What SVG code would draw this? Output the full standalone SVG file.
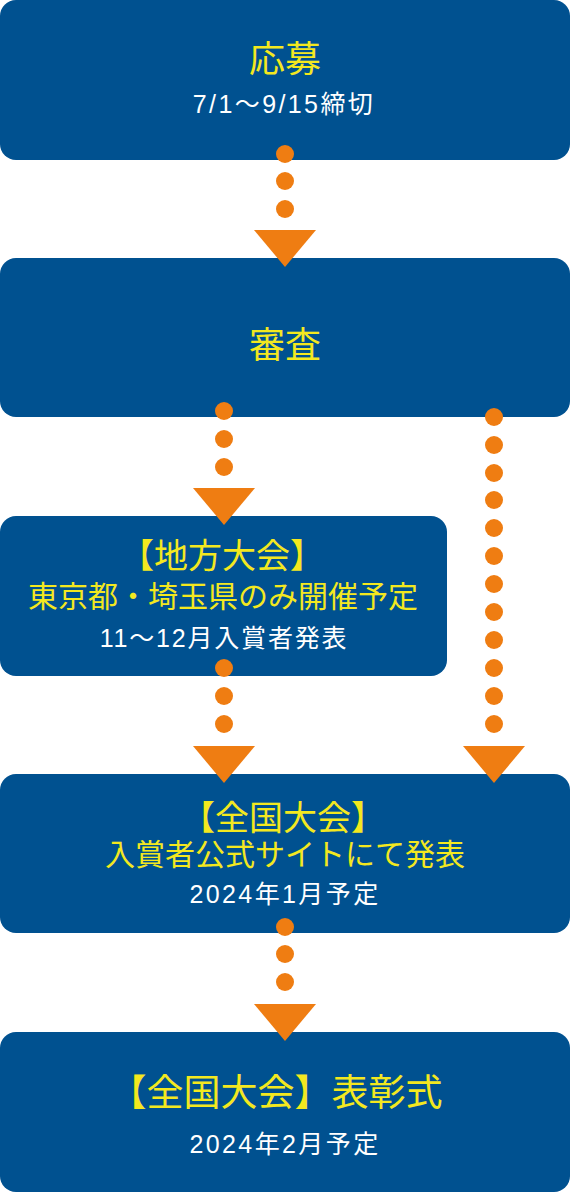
<svg xmlns="http://www.w3.org/2000/svg" width="570" height="1192" viewBox="0 0 570 1192">
<style>
.box{fill:#005190}
.dot{fill:#ef7d12}
.tri{fill:#ef7d12}
text{font-family:"Noto Sans CJK JP","Noto Sans",sans-serif;text-anchor:middle}
.y{fill:#f3e81f;dominant-baseline:central}
.w{fill:#ffffff;font-family:"Liberation Sans","Noto Sans CJK JP",sans-serif;font-size:25px;letter-spacing:1.8px}
.ws{letter-spacing:2.4px}
.t0{font-size:36px}
.t1{font-size:34px}
.t2{font-size:30px}
.t5{font-size:37px}
</style>
<defs>
<circle id="d" r="9" class="dot"/>
<path id="a" d="M-31,0 L31,0 L0,37 Z" class="tri"/>
</defs>
<g id="node-oubo">
<rect class="box" x="0" y="0" width="570" height="160" rx="16"/>
<text class="y t0" x="285" y="56">応募</text>
<text class="w ws" x="284" y="113">7/1〜9/15締切</text>
</g>
<g id="node-shinsa">
<rect class="box" x="0" y="258" width="570" height="159" rx="16"/>
<text class="y t0" x="285" y="342">審査</text>
</g>
<g id="node-chihou">
<rect class="box" x="0" y="516" width="447" height="160" rx="16"/>
<text class="y t1" x="222" y="553">【地方大会】</text>
<text class="y t2" x="223" y="594">東京都・埼玉県のみ開催予定</text>
<text class="w" x="224" y="647">11〜12月入賞者発表</text>
</g>
<g id="node-zenkoku">
<rect class="box" x="0" y="774" width="570" height="159" rx="16"/>
<text class="y t1" x="283" y="815">【全国大会】</text>
<text class="y t2" x="285" y="852">入賞者公式サイトにて発表</text>
<text class="w ws" x="285" y="903">2024年1月予定</text>
</g>
<g id="node-hyoushou">
<rect class="box" x="0" y="1032" width="570" height="160" rx="16"/>
<text class="y t5" x="276" y="1090">【全国大会】表彰式</text>
<text class="w ws" x="285" y="1153">2024年2月予定</text>
</g>
<g id="connectors">
<use href="#d" x="285" y="154"/><use href="#d" x="285" y="181"/><use href="#d" x="285" y="209"/>
<use href="#a" x="285" y="230"/>
<use href="#d" x="224" y="411"/><use href="#d" x="224" y="439"/><use href="#d" x="224" y="467"/>
<use href="#a" x="224" y="488"/>
<use href="#d" x="494" y="417"/><use href="#d" x="494" y="445"/><use href="#d" x="494" y="473"/><use href="#d" x="494" y="500"/><use href="#d" x="494" y="528"/><use href="#d" x="494" y="556"/><use href="#d" x="494" y="584"/><use href="#d" x="494" y="612"/><use href="#d" x="494" y="640"/><use href="#d" x="494" y="668"/><use href="#d" x="494" y="696"/><use href="#d" x="494" y="724"/>
<use href="#a" x="494" y="746"/>
<use href="#d" x="224" y="668"/><use href="#d" x="224" y="696"/><use href="#d" x="224" y="724"/>
<use href="#a" x="224" y="746"/>
<use href="#d" x="285" y="927"/><use href="#d" x="285" y="954"/><use href="#d" x="285" y="982"/>
<use href="#a" x="285" y="1004"/>
</g>
</svg>
